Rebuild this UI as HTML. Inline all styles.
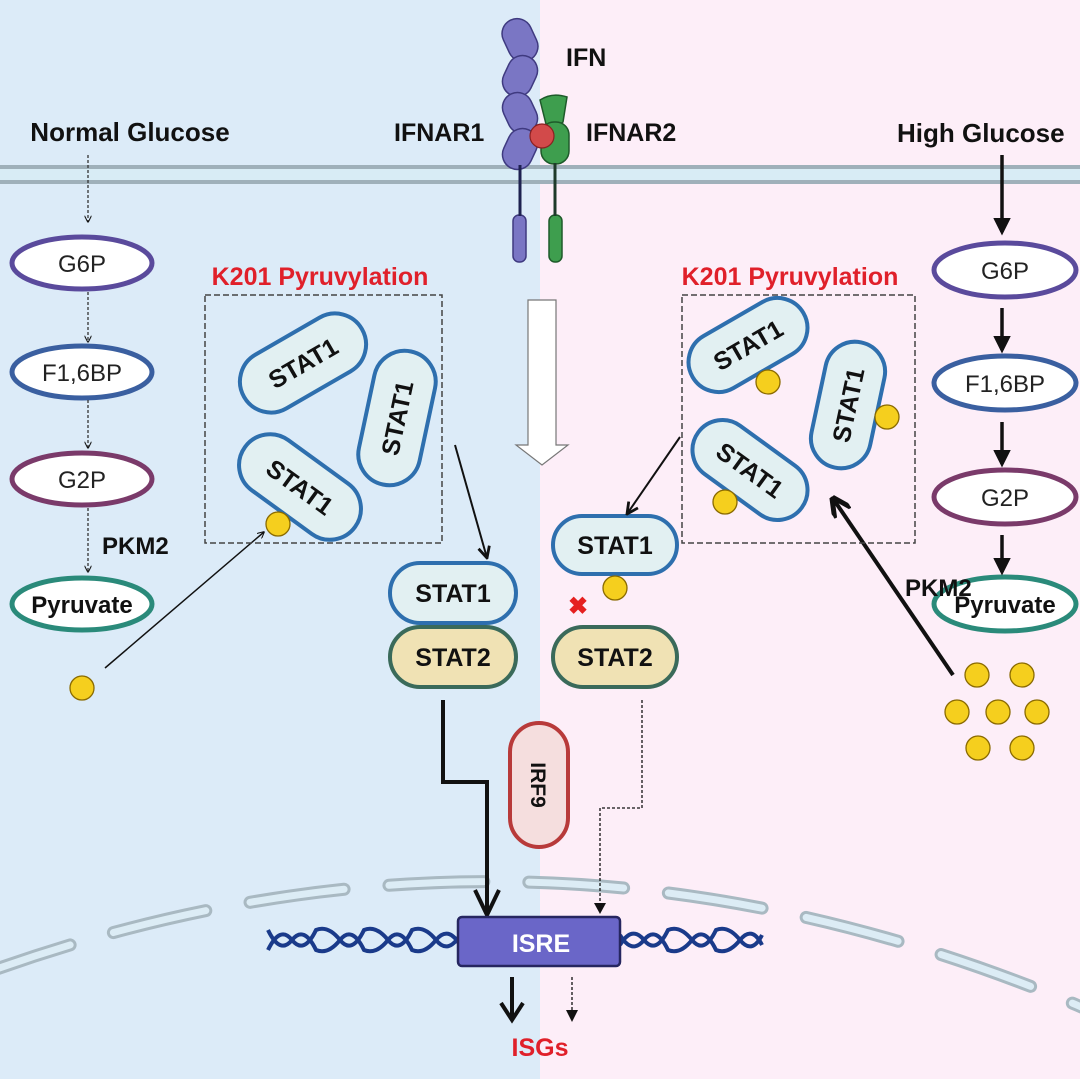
<!DOCTYPE html>
<html><head><meta charset="utf-8"><style>
html,body{margin:0;padding:0;}
body{width:1080px;height:1079px;overflow:hidden;}
svg{display:block;}
text{font-family:"Liberation Sans",Arial,sans-serif;}
</style></head><body>
<svg width="1080" height="1079" viewBox="0 0 1080 1079" xmlns="http://www.w3.org/2000/svg">
<defs>
<marker id="ah" viewBox="0 0 10 10" refX="9" refY="5" markerWidth="7" markerHeight="7" orient="auto" markerUnits="userSpaceOnUse"><path d="M0,0 L10,5 L0,10" fill="none" stroke="#111" stroke-width="1.5"/></marker>
<marker id="ahs" viewBox="0 0 10 10" refX="9" refY="5" markerWidth="14" markerHeight="14" orient="auto" markerUnits="userSpaceOnUse"><path d="M1,1 L9,5 L1,9" fill="none" stroke="#111" stroke-width="2"/></marker>
<marker id="ahf" viewBox="0 0 10 10" refX="8" refY="5" markerWidth="5" markerHeight="5" orient="auto"><path d="M0,0 L10,5 L0,10 z" fill="#111"/></marker>
<marker id="ahb" viewBox="0 0 10 10" refX="8" refY="5" markerWidth="5" markerHeight="5" orient="auto"><path d="M0,0 L10,5 L0,10" fill="none" stroke="#111" stroke-width="2.5"/></marker>
</defs>
<rect x="0" y="0" width="540" height="1079" fill="#dcebf8"/>
<rect x="540" y="0" width="540" height="1079" fill="#fdeef8"/>
<!-- membrane -->
<rect x="0" y="167" width="1080" height="15" fill="#d8ecf5"/>
<line x1="0" y1="167" x2="1080" y2="167" stroke="#9fb0ba" stroke-width="4"/>
<line x1="0" y1="182" x2="1080" y2="182" stroke="#9fb0ba" stroke-width="4"/>
<!-- nuclear membrane -->
<path d="M-20,975 Q540,770 1100,1015" fill="none" stroke="#a9b9c2" stroke-width="13" stroke-dasharray="95,45" stroke-linecap="round"/>
<path d="M-20,975 Q540,770 1100,1015" fill="none" stroke="#dcecf5" stroke-width="7" stroke-dasharray="95,45" stroke-linecap="round"/>

<!-- titles -->
<text x="130" y="141" font-size="26" font-weight="bold" text-anchor="middle" fill="#111">Normal Glucose</text>
<text x="897" y="142" font-size="26" font-weight="bold" fill="#111">High Glucose</text>
<text x="566" y="66" font-size="25" font-weight="bold" fill="#111">IFN</text>
<text x="394" y="141" font-size="25" font-weight="bold" fill="#111">IFNAR1</text>
<text x="586" y="141" font-size="25" font-weight="bold" fill="#111">IFNAR2</text>

<!-- receptors -->
<g stroke="#3f3a80" stroke-width="1.5" fill="#7a76c4">
<rect x="505" y="18" width="30" height="44" rx="15" transform="rotate(-25 520 40)"/>
<rect x="505" y="55" width="30" height="42" rx="15" transform="rotate(25 520 76)"/>
<rect x="505" y="92" width="30" height="42" rx="15" transform="rotate(-25 520 113)"/>
<rect x="505" y="128" width="30" height="42" rx="15" transform="rotate(25 520 149)"/>
<rect x="513" y="215" width="13" height="47" rx="6"/>
</g>
<line x1="520" y1="165" x2="520" y2="216" stroke="#1e2150" stroke-width="3"/>
<g stroke="#1e5a2a" stroke-width="1.5" fill="#3e9e4e">
<path d="M540,100 Q552,92 567,97 L563,122 Q555,130 546,124 Z"/>
<rect x="541" y="122" width="28" height="42" rx="13"/>
<rect x="549" y="215" width="13" height="47" rx="6"/>
</g>
<line x1="555" y1="163" x2="555" y2="216" stroke="#1e3a2a" stroke-width="3"/>
<circle cx="542" cy="136" r="12" fill="#d24a4a" stroke="#8a2020" stroke-width="1.2"/>

<!-- Left glycolysis -->
<g font-size="24" text-anchor="middle" fill="#222">
<ellipse cx="82" cy="263" rx="70" ry="26" fill="#fff" stroke="#5a4a9c" stroke-width="5"/>
<text x="82" y="272">G6P</text>
<ellipse cx="82" cy="372" rx="70" ry="26" fill="#fff" stroke="#3a5fa0" stroke-width="5"/>
<text x="82" y="381">F1,6BP</text>
<ellipse cx="82" cy="479" rx="70" ry="26" fill="#fff" stroke="#7a3a6a" stroke-width="5"/>
<text x="82" y="488">G2P</text>
<ellipse cx="82" cy="604" rx="70" ry="26" fill="#fff" stroke="#2a8a7a" stroke-width="5"/>
<text x="82" y="613" font-weight="bold" fill="#111">Pyruvate</text>
</g>
<g stroke="#333" stroke-width="1.3" stroke-dasharray="3,2" fill="none">
<line x1="88" y1="155" x2="88" y2="222" marker-end="url(#ah)"/>
<line x1="88" y1="292" x2="88" y2="342" marker-end="url(#ah)"/>
<line x1="88" y1="400" x2="88" y2="448" marker-end="url(#ah)"/>
<line x1="88" y1="508" x2="88" y2="572" marker-end="url(#ah)"/>
</g>
<text x="102" y="554" font-size="24" font-weight="bold" fill="#111">PKM2</text>
<circle cx="82" cy="688" r="12" fill="#f5cf1e" stroke="#8a6a00" stroke-width="1.3"/>
<line x1="105" y1="668" x2="264" y2="532" stroke="#111" stroke-width="1.5" marker-end="url(#ah)"/>

<!-- Right glycolysis -->
<g font-size="24" text-anchor="middle" fill="#222">
<ellipse cx="1005" cy="270" rx="71" ry="27" fill="#fff" stroke="#5a4a9c" stroke-width="5"/>
<text x="1005" y="279">G6P</text>
<ellipse cx="1005" cy="383" rx="71" ry="27" fill="#fff" stroke="#3a5fa0" stroke-width="5"/>
<text x="1005" y="392">F1,6BP</text>
<ellipse cx="1005" cy="497" rx="71" ry="27" fill="#fff" stroke="#7a3a6a" stroke-width="5"/>
<text x="1005" y="506">G2P</text>
<ellipse cx="1005" cy="604" rx="71" ry="27" fill="#fff" stroke="#2a8a7a" stroke-width="5"/>
<text x="1005" y="613" font-weight="bold" fill="#111">Pyruvate</text>
</g>
<g stroke="#111" stroke-width="3.5" fill="none">
<line x1="1002" y1="155" x2="1002" y2="232" marker-end="url(#ahf)"/>
<line x1="1002" y1="308" x2="1002" y2="350" marker-end="url(#ahf)"/>
<line x1="1002" y1="422" x2="1002" y2="464" marker-end="url(#ahf)"/>
<line x1="1002" y1="535" x2="1002" y2="572" marker-end="url(#ahf)"/>
</g>
<text x="905" y="596" font-size="24" font-weight="bold" fill="#111">PKM2</text>
<g fill="#f5cf1e" stroke="#8a6a00" stroke-width="1.3">
<circle cx="977" cy="675" r="12"/><circle cx="1022" cy="675" r="12"/>
<circle cx="957" cy="712" r="12"/><circle cx="998" cy="712" r="12"/><circle cx="1037" cy="712" r="12"/>
<circle cx="978" cy="748" r="12"/><circle cx="1022" cy="748" r="12"/>
</g>
<line x1="953" y1="675" x2="834" y2="500" stroke="#111" stroke-width="4" marker-end="url(#ahb)"/>

<!-- boxes -->
<rect x="205" y="295" width="237" height="248" fill="none" stroke="#444" stroke-width="1.5" stroke-dasharray="6,3"/>
<rect x="682" y="295" width="233" height="248" fill="none" stroke="#444" stroke-width="1.5" stroke-dasharray="6,3"/>
<text x="320" y="285" font-size="25" font-weight="bold" text-anchor="middle" fill="#e0202a">K201 Pyruvylation</text>
<text x="790" y="285" font-size="25" font-weight="bold" text-anchor="middle" fill="#e0202a">K201 Pyruvylation</text>

<!-- STAT1 pills -->
<g font-size="25" font-weight="bold" text-anchor="middle" fill="#111">
<g transform="translate(303,363) rotate(-30)"><rect x="-68" y="-31" width="136" height="62" rx="31" fill="#e2f0f2" stroke="#2e6fae" stroke-width="4"/><text y="9">STAT1</text></g>
<g transform="translate(397,418) rotate(-78)"><rect x="-68" y="-31" width="136" height="62" rx="31" fill="#e2f0f2" stroke="#2e6fae" stroke-width="4"/><text y="9">STAT1</text></g>
<g transform="translate(300,487) rotate(36)"><rect x="-68" y="-31" width="136" height="62" rx="31" fill="#e2f0f2" stroke="#2e6fae" stroke-width="4"/><text y="9">STAT1</text></g>

<g transform="translate(748,345) rotate(-30)"><rect x="-64" y="-30" width="128" height="60" rx="30" fill="#e2f0f2" stroke="#2e6fae" stroke-width="4"/><text y="9">STAT1</text></g>
<g transform="translate(848,405) rotate(-78)"><rect x="-64" y="-30" width="128" height="60" rx="30" fill="#e2f0f2" stroke="#2e6fae" stroke-width="4"/><text y="9">STAT1</text></g>
<g transform="translate(750,470) rotate(36)"><rect x="-64" y="-30" width="128" height="60" rx="30" fill="#e2f0f2" stroke="#2e6fae" stroke-width="4"/><text y="9">STAT1</text></g>

<rect x="390" y="563" width="126" height="60" rx="30" fill="#e2f0f2" stroke="#2e6fae" stroke-width="4"/><text x="453" y="602">STAT1</text>
<rect x="390" y="627" width="126" height="60" rx="30" fill="#f0e2b4" stroke="#3a6a5a" stroke-width="4"/><text x="453" y="666">STAT2</text>
<rect x="553" y="516" width="124" height="58" rx="29" fill="#e2f0f2" stroke="#2e6fae" stroke-width="4"/><text x="615" y="554">STAT1</text>
<rect x="553" y="627" width="124" height="60" rx="30" fill="#f0e2b4" stroke="#3a6a5a" stroke-width="4"/><text x="615" y="666">STAT2</text>
</g>
<g fill="#f5cf1e" stroke="#8a6a00" stroke-width="1.3">
<circle cx="278" cy="524" r="12"/>
<circle cx="768" cy="382" r="12"/><circle cx="887" cy="417" r="12"/><circle cx="725" cy="502" r="12"/>
<circle cx="615" cy="588" r="12"/>
</g>
<text x="578" y="614" font-size="24" font-weight="bold" text-anchor="middle" fill="#e52020">✖</text>

<line x1="455" y1="445" x2="487" y2="558" stroke="#111" stroke-width="2" marker-end="url(#ahs)"/>
<line x1="680" y1="437" x2="627" y2="514" stroke="#111" stroke-width="2" marker-end="url(#ahs)"/>

<!-- big hollow arrow -->
<path d="M528,300 L556,300 L556,445 L568,445 L542,465 L516,445 L528,445 Z" fill="#fff" stroke="#777" stroke-width="1.2"/>

<!-- IRF9 -->
<rect x="510" y="723" width="58" height="124" rx="29" fill="#f5dede" stroke="#b83a3a" stroke-width="4"/>
<text transform="translate(531,785) rotate(90)" font-size="21" font-weight="bold" text-anchor="middle" fill="#111">IRF9</text>

<!-- paths to ISRE -->
<path d="M443,700 L443,782 L487,782 L487,915" fill="none" stroke="#111" stroke-width="4"/>
<path d="M475,890 L487,915 L499,890" fill="none" stroke="#111" stroke-width="4"/>
<path d="M642,700 L642,808 L600,808 L600,913" fill="none" stroke="#111" stroke-width="1.3" stroke-dasharray="3,2"/>
<path d="M594,903 L600,914 L606,903 Z" fill="#111"/>

<!-- DNA -->
<g fill="none" stroke="#1a3a8a" stroke-width="4">
<path d="M268,950 Q280,925 292,940 Q304,955 316,930 Q328,925 340,940 Q352,955 364,930 Q376,925 388,940 Q400,955 412,930 Q424,925 436,940 Q448,955 460,935"/>
<path d="M268,930 Q280,955 292,940 Q304,925 316,950 Q328,955 340,940 Q352,925 364,950 Q376,955 388,940 Q400,925 412,950 Q424,955 436,940 Q448,925 460,945"/>
<path d="M620,935 Q632,955 644,940 Q656,925 668,950 Q680,955 692,940 Q704,925 716,950 Q728,955 740,940 Q752,925 762,945"/>
<path d="M620,945 Q632,925 644,940 Q656,955 668,930 Q680,925 692,940 Q704,955 716,930 Q728,925 740,940 Q752,955 762,935"/>
</g>
<rect x="458" y="917" width="162" height="49" rx="4" fill="#6a66c8" stroke="#262660" stroke-width="2.5"/>
<text x="541" y="952" font-size="25" font-weight="bold" text-anchor="middle" fill="#fff">ISRE</text>

<line x1="512" y1="977" x2="512" y2="1018" stroke="#111" stroke-width="4"/>
<path d="M501,1003 L512,1020 L523,1003" fill="none" stroke="#111" stroke-width="4"/>
<line x1="572" y1="977" x2="572" y2="1016" stroke="#111" stroke-width="1.3" stroke-dasharray="3,2"/>
<path d="M566,1010 L572,1022 L578,1010 Z" fill="#111"/>
<text x="540" y="1056" font-size="25" font-weight="bold" text-anchor="middle" fill="#e0202a">ISGs</text>
</svg>
</body></html>
